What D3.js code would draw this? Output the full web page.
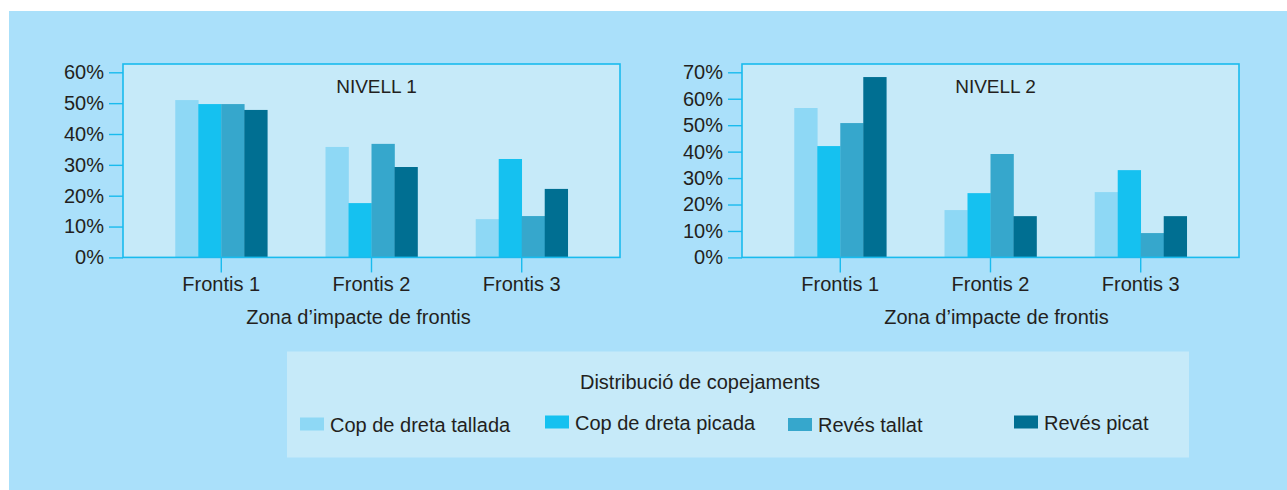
<!DOCTYPE html>
<html><head><meta charset="utf-8">
<script src="https://cdn.jsdelivr.net/npm/d3@7"></script>
<style>
html,body{margin:0;padding:0;background:#fff;}
svg{display:block;font-family:"Liberation Sans",Arial,sans-serif;}
</style></head>
<body>
<svg id="chart" width="1287" height="490"></svg>
<script>
// ---- data ----
const categories = ["Frontis 1", "Frontis 2", "Frontis 3"];
const seriesNames = ["Cop de dreta tallada", "Cop de dreta picada", "Revés tallat", "Revés picat"];
const nivell1 = [ // per series, per category (%)
  [51.0, 35.8, 12.4],
  [49.7, 17.6, 31.9],
  [49.7, 36.8, 13.4],
  [47.8, 29.3, 22.2]
];
const nivell2 = [
  [56.5, 17.9, 24.7],
  [42.1, 24.3, 33.0],
  [50.8, 39.1, 9.2],
  [68.2, 15.6, 15.6]
];
const ticks1 = [0, 10, 20, 30, 40, 50, 60];
const ticks2 = [0, 10, 20, 30, 40, 50, 60, 70];
const titles = ["NIVELL 1", "NIVELL 2"];
const xTitle = "Zona d\u2019impacte de frontis";
const legendTitle = "Distribució de copejaments";

// ---- style ----
const colors = ["#8ed8f5", "#15c1f0", "#36a7cc", "#006f92"];
const textColor = "#231f20";
const lineColor = "#19bbee";
const FS = 20;

const svg = d3.select("#chart");
svg.append("rect").attr("x", 9).attr("y", 11).attr("width", 1287 - 9).attr("height", 490 - 11).attr("fill", "#aae0fa");

function drawPanel(left, data, tickVals, title, titleDx, xTitleDx) {
  const top = 64, w = 497, baseY = 257.4, topTickY = 72.3;
  const maxT = tickVals[tickVals.length - 1];
  const g = svg.append("g").attr("transform", `translate(${left},0)`);
  const y = d3.scaleLinear().domain([0, maxT]).range([baseY, topTickY]);
  const x0 = d3.scaleBand().domain(categories).range([0, w]).paddingInner(0.3875).paddingOuter(0.348);
  const x1 = d3.scaleBand().domain(seriesNames).range([0, x0.bandwidth()]);

  g.append("rect").attr("x", 0).attr("y", top).attr("width", w).attr("height", baseY - top)
    .attr("fill", "#c6eaf9");

  // bars
  seriesNames.forEach((s, si) => {
    g.append("g").selectAll("rect").data(categories).join("rect")
      .attr("x", c => x0(c) + x1(s))
      .attr("width", x1.bandwidth() + 0.3)
      .attr("y", (c, ci) => y(data[si][ci]))
      .attr("height", (c, ci) => baseY - y(data[si][ci]))
      .attr("fill", colors[si]);
  });

  // frame
  g.append("rect").attr("x", 0).attr("y", top).attr("width", w).attr("height", baseY - top)
    .attr("fill", "none").attr("stroke", lineColor).attr("stroke-width", 1.6);

  // y axis
  const ya = g.append("g").call(d3.axisLeft(y).tickValues(tickVals).tickSize(14).tickPadding(5).tickFormat(d => d + "%"));
  ya.select(".domain").remove();
  ya.selectAll("line").attr("stroke", lineColor).attr("stroke-width", 1.4);
  ya.selectAll("text").attr("fill", textColor).attr("font-size", FS).attr("font-family", "Liberation Sans, Arial, sans-serif");

  // x axis
  const xa = g.append("g").attr("transform", `translate(0,${baseY})`)
    .call(d3.axisBottom(x0).tickSize(15).tickPadding(4));
  xa.select(".domain").remove();
  xa.selectAll("line").attr("stroke", lineColor).attr("stroke-width", 1.4);
  xa.selectAll("text").attr("fill", textColor).attr("font-size", FS).attr("font-family", "Liberation Sans, Arial, sans-serif");

  g.append("text").attr("x", w / 2 + titleDx).attr("y", 93).attr("text-anchor", "middle")
    .attr("fill", textColor).attr("font-size", 19).text(title);
  g.append("text").attr("x", w / 2 + xTitleDx).attr("y", 324).attr("text-anchor", "middle")
    .attr("fill", textColor).attr("font-size", FS).text(xTitle);
}

drawPanel(123, nivell1, ticks1, titles[0], 5, -13);
drawPanel(742, nivell2, ticks2, titles[1], 5, 6);

// legend
const lg = svg.append("g");
lg.append("rect").attr("x", 287).attr("y", 351.5).attr("width", 902).attr("height", 106).attr("fill", "#c6eaf9");
lg.append("text").attr("x", 700).attr("y", 389).attr("text-anchor", "middle").attr("fill", textColor)
  .attr("font-size", FS).text(legendTitle);
const legX = [300, 545, 788, 1014];
const legY = [417.5, 415.5, 418, 415.5];
seriesNames.forEach((s, i) => {
  lg.append("rect").attr("x", legX[i]).attr("y", legY[i]).attr("width", 24).attr("height", 13).attr("fill", colors[i]);
  lg.append("text").attr("x", legX[i] + 30).attr("y", legY[i] + 14).attr("fill", textColor)
    .attr("font-size", FS).text(s);
});
</script>
</body></html>
